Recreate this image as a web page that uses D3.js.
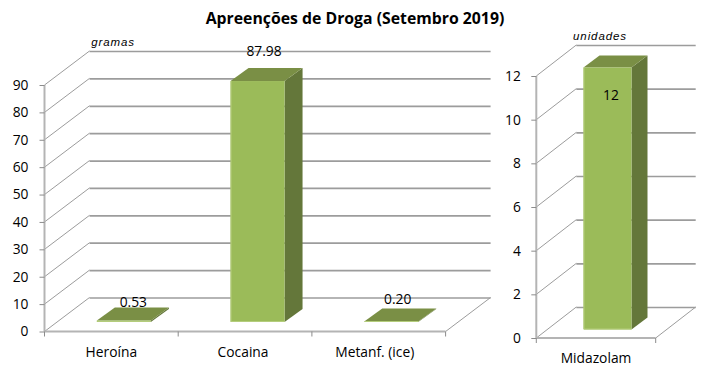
<!DOCTYPE html>
<html><head><meta charset="utf-8">
<script src="https://cdn.jsdelivr.net/npm/d3@7"></script>
<style>html,body{margin:0;padding:0;background:#fff}svg{display:block}</style>
</head><body><svg id="c" width="708" height="370"></svg>
<script>
const titleText = "Apreenções de Droga (Setembro 2019)";
const leftCategories = ["Heroína", "Cocaina", "Metanf. (ice)"];
const leftValues = [0.53, 87.98, 0.20];
const leftLabels = ["0.53", "87.98", "0.20"];
const leftTicks = [0,10,20,30,40,50,60,70,80,90];
const rightCategories = ["Midazolam"];
const rightValues = [12];
const rightLabels = ["12"];
const rightTicks = [0,2,4,6,8,10,12];

const svg = d3.select("#c");
const FRONT="#9BBB59", TOP="#7A8F45", SIDE="#64773A", GRID="#9c9c9c", AXIS="#b4b4b4", EDGE="#b4cd7c";
const tickFont = "'Open Sans','Noto Sans',sans-serif";

svg.append("text").attr("x",355).attr("y",24).attr("text-anchor","middle")
  .attr("font-family","'Open Sans',sans-serif").attr("font-weight",700).attr("font-size",15.8).attr("fill","#000").text(titleText);

function panel(o){
  const g = svg.append("g");
  const y = d3.scaleLinear().domain(o.yDomain).range(o.yRange);
  const x = d3.scaleBand().domain(o.cats).range(o.xRange);
  const [x0,x1] = o.xRange;
  const pts = a=>a.map(p=>p.join(",")).join(" ");

  g.selectAll(".side").data(o.ticks).join("line")
    .attr("x1",x0).attr("y1",d=>y(d)).attr("x2",x0+o.dx).attr("y2",d=>y(d)-o.dy)
    .attr("stroke",GRID).attr("stroke-width",1);
  g.selectAll(".back").data(o.ticks).join("line")
    .attr("x1",x0+o.dx).attr("y1",d=>y(d)-o.dy+.5).attr("x2",x1+o.dx).attr("y2",d=>y(d)-o.dy+.5)
    .attr("stroke",GRID).attr("stroke-width",1.7);
  g.append("line").attr("x1",x1).attr("y1",y(0)).attr("x2",x1+o.dx).attr("y2",y(0)-o.dy).attr("stroke",GRID);

  const yAxis = d3.axisLeft(y).tickValues(o.ticks).tickSize(5).tickPadding(o.yPad);
  const ya = g.append("g").attr("transform",`translate(${x0},0)`).call(yAxis);
  const xAxis = d3.axisBottom(x).tickSize(0).tickPadding(o.xPad);
  const xa = g.append("g").attr("transform",`translate(0,${y(0)})`).call(xAxis);
  for (const a of [ya,xa]) {
    a.select(".domain").attr("stroke",AXIS).attr("stroke-width",2);
    a.selectAll("line").attr("stroke",AXIS);
    a.selectAll("text").attr("font-family",tickFont).attr("font-size",o.font).attr("fill","#000");
  }
  xa.selectAll("text").attr("dx",(d,i)=>o.catDx[i]);
  ya.selectAll("line").attr("stroke","#8c8c8c");
  ya.select(".domain").attr("d",`M0,${y(o.ticks[o.ticks.length-1])}V${y(0)}`);
  xa.select(".domain").remove();
  g.append("line").attr("x1",x0).attr("x2",x1).attr("y1",y(0)).attr("y2",y(0)).attr("stroke",AXIS).attr("stroke-width",2);
  g.selectAll(".xt").data(d3.range(o.cats.length+1)).join("line")
    .attr("x1",i=>x0+i*x.step()).attr("x2",i=>x0+i*x.step()).attr("y1",y(0)).attr("y2",y(0)+5).attr("stroke","#8c8c8c");

  o.values.forEach((v,i)=>{
    const c = x(o.cats[i]) + x.bandwidth()/2;
    const l = c - o.barW/2 + o.barDx, r = l + o.barW;
    const b = y(0) - o.barDy, t = y(v) - o.barDy;
    const ddx=o.depthX, ddy=o.depthY;
    const bar = g.append("g");
    bar.append("polygon").attr("points",pts([[r,t],[r+ddx,t-ddy],[r+ddx,b-ddy],[r,b]])).attr("fill",SIDE);
    bar.append("polygon").attr("points",pts([[l,t],[r,t],[r+ddx,t-ddy],[l+ddx,t-ddy]])).attr("fill",TOP);
    bar.append("rect").attr("x",l).attr("y",t).attr("width",o.barW).attr("height",b-t).attr("fill",FRONT);
    bar.append("path").attr("d",`M${l+.5},${t}V${b-.5}H${r}`).attr("fill","none").attr("stroke",EDGE).attr("stroke-width",1);
    g.append("text").attr("x",c+o.labelDx[i]).attr("y",o.labelY[i]).attr("text-anchor","middle")
      .attr("font-family",tickFont).attr("font-size",o.font).attr("fill","#000").text(o.labels[i]);
  });

  g.append("text").attr("x",o.unit[0]).attr("y",o.unit[1]).attr("text-anchor","middle")
    .attr("font-family","'Liberation Sans',Arial,sans-serif").attr("font-style","italic").attr("font-size",11.5)
    .attr("letter-spacing",0.9).attr("fill","#000").text(o.unit[2]);
}

panel({cats:leftCategories,values:leftValues,labels:leftLabels,ticks:leftTicks,
  yDomain:[0,90],yRange:[331.5,85],xRange:[44.5,445.6],dx:45,dy:34,xPad:16,yPad:11,font:13.8,catDx:[0,-2,-4],
  barW:54,barDx:12.5,barDy:9.5,depthX:18,depthY:13,
  labelDx:[22,19,19],labelY:[307,56,304],unit:[113,46,"gramas"]});
panel({cats:rightCategories,values:rightValues,labels:rightLabels,ticks:rightTicks,
  yDomain:[0,12],yRange:[338,76],xRange:[536.3,655.7],dx:40,dy:31,xPad:15,yPad:10.5,font:13.8,catDx:[0],
  barW:48,barDx:11.5,barDy:8.5,depthX:16,depthY:12,
  labelDx:[15],labelY:[100],unit:[600,40,"unidades"]});
</script></body></html>
